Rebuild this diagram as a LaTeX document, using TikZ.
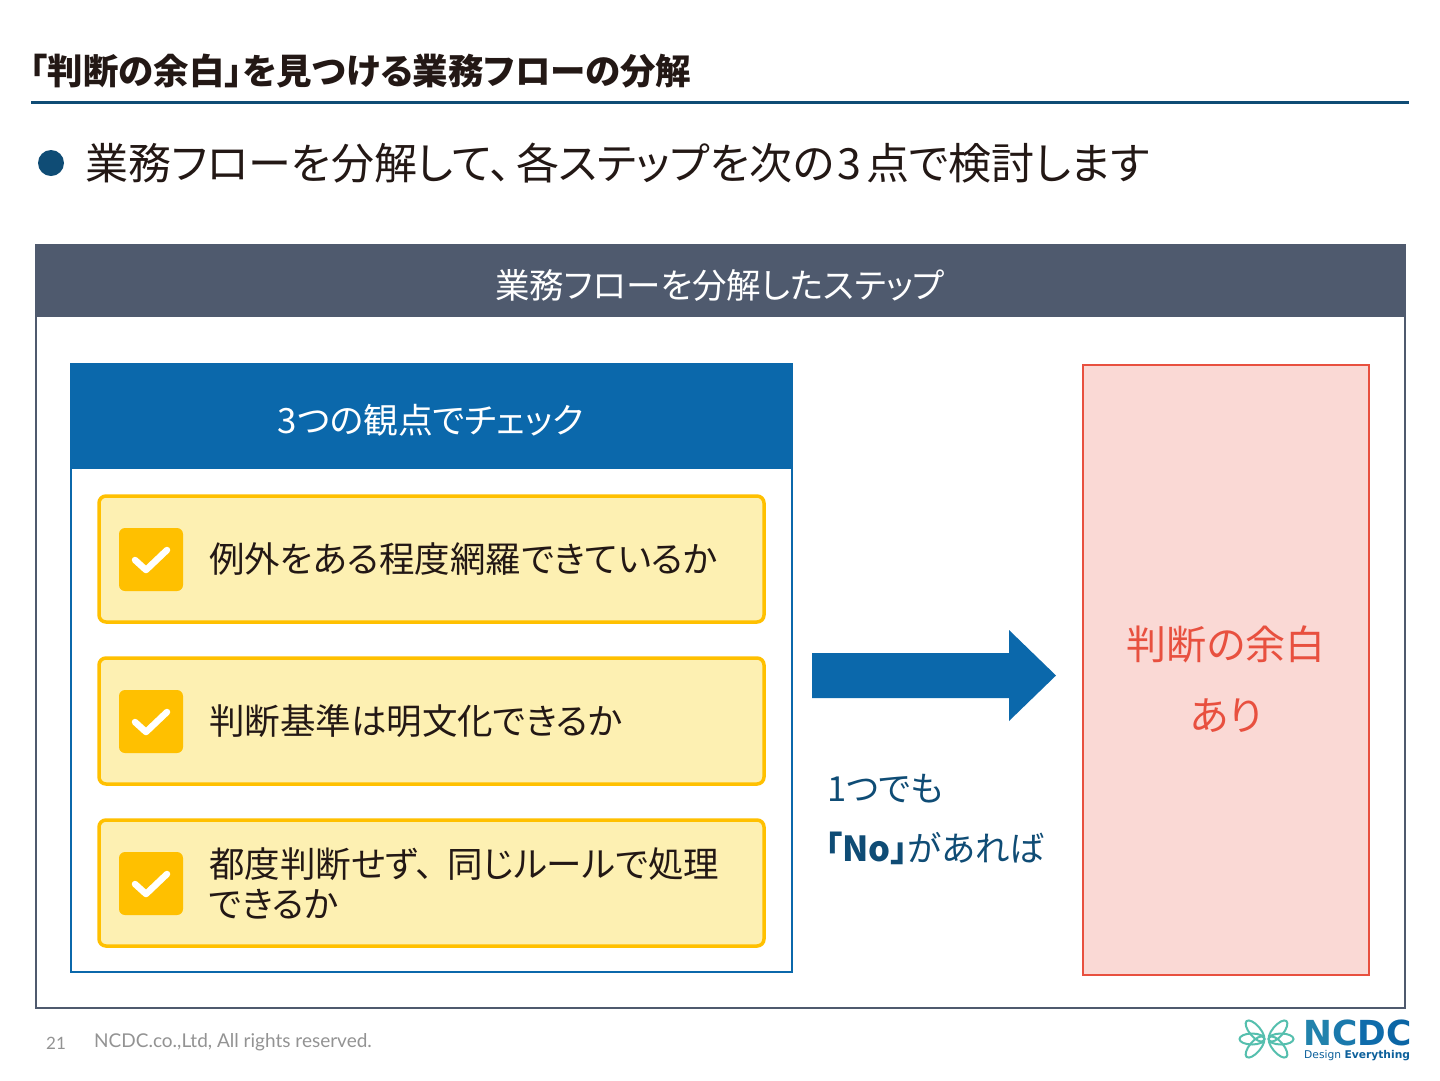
\documentclass[tikz,border=0pt]{standalone}
\usepackage{fontspec}
\setmainfont{Noto Sans CJK JP}[RawFeature=+palt]
\newfontfamily\latinfont{Lato}
\newfontfamily\logofont{DejaVu Sans}
\definecolor{inktext}{HTML}{231815}
\definecolor{navyrule}{HTML}{0F4C75}
\definecolor{headgray}{HTML}{4F5A6E}
\definecolor{blueband}{HTML}{0B68AB}
\definecolor{checkfill}{HTML}{FDF0B2}
\definecolor{checkline}{HTML}{FFC000}
\definecolor{gapline}{HTML}{E8503F}
\definecolor{gapfill}{HTML}{FAD9D5}
\definecolor{logoteal}{HTML}{55BFAE}
\tikzset{
    body/.style={inner sep=0pt,anchor=west,text=inktext},
    rowbox/.style={draw=checkline,fill=checkfill,line width=3.5pt,rounded corners=7pt},
    tick/.style={white,line width=6.5pt,line cap=round,line join=round},
    rowtext/.style={inner sep=0pt,anchor=west,align=left,text=inktext,font=\fontsize{35.5}{40}\selectfont},
    condtext/.style={inner sep=0pt,anchor=west,text=navyrule,font=\fontsize{34.5}{40}\selectfont},
    gaptext/.style={inner sep=0pt,text=gapline,font=\fontsize{40}{44}\selectfont},
    lobe/.style={draw=logoteal,line width=2pt},
}
\begin{document}
\begin{tikzpicture}[x=1pt,y=-1pt]
    \useasboundingbox (0,0) rectangle (1440,1080);
    \fill[white] (0,0) rectangle (1440,1080);
    % heading
    \node[body,font=\bfseries\fontsize{35.5}{40}\selectfont] (title) at (30,71) {「判断の余白」を見つける業務フローの分解};
    \draw[navyrule,line width=3pt] (31,102)--(1409,102);
    \fill[navyrule] (51,163) circle (13);
    \node[body,font=\fontsize{43}{50}\selectfont] (lead) at (85,163) {業務フローを分解して、\kern5pt 各ステップを次の\kern3pt 3\kern5pt 点で検討します};
    % outer frame
    \draw[headgray,line width=2.5pt,fill=white] (36,245) rectangle (1405,1008);
    \fill[headgray] (36,244) rectangle (1405,317);
    \node[text=white,inner sep=0pt,font=\fontsize{34.5}{40}\selectfont] (flowhead) at (720,285) {業務フローを分解したステップ};
    % left panel
    \draw[blueband,line width=2pt] (71,364) rectangle (792,972);
    \fill[blueband] (70,363) rectangle (793,469);
    \node[text=white,inner sep=0pt,font=\fontsize{34.8}{40}\selectfont] (panelhead) at (431,420) {3つの観点でチェック};
    \foreach \y/\name/\txt in {
        559/rowa/例外をある程度網羅できているか,
        721/rowb/判断基準は明文化できるか,
        883/rowc/{都度判断せず、\kern14pt 同じルールで処理\\できるか}}{
        \draw[rowbox] (99,\y-63) rectangle (764,\y+63);
        \fill[checkline,rounded corners=6pt] (119,\y-31) rectangle (183,\y+32);
        \draw[tick] (135,\y+1)--(146,\y+11)--(167,\y-9);
        \node[rowtext] (\name) at (209,\y) {\txt};
    }
    % arrow and condition
    \fill[blueband] (812,653)--(1009,653)--(1009,630)--(1056,675.5)--(1009,721)--(1009,698)--(812,698)--cycle;
    \node[condtext] (condone) at (827,789) {1つでも};
    \node[condtext] (condtwo) at (825,848) {\textbf{「No」}があれば};
    % right panel
    \draw[gapline,line width=2.5pt,fill=gapfill] (1083,365) rectangle (1369,975);
    \node[gaptext] (gapone) at (1226,644) {判断の余白};
    \node[gaptext] (gaptwo) at (1226,716) {あり};
    % footer
    \node[inner sep=0pt,anchor=west,text=gray!85,font=\latinfont\fontsize{17}{20}\selectfont] (pageno) at (46,1043) {21};
    \node[inner sep=0pt,anchor=west,text=gray!85,font=\latinfont\fontsize{19}{22}\selectfont] (rights) at (94,1042) {NCDC.co.,Ltd, All rights reserved.};
    % logo
    \foreach \cx/\sx in {1255/1,1278/-1}{
        \draw[lobe] (\cx-3*\sx,1039) ellipse [x radius=12.5,y radius=5.5];
        \draw[lobe,rotate around={-50*\sx:(\cx,1031)}] (\cx,1031) ellipse [x radius=13,y radius=5.5];
        \draw[lobe,rotate around={50*\sx:(\cx,1047)}] (\cx,1047) ellipse [x radius=13,y radius=5.5];
    }
    \node[inner sep=0pt,anchor=west,font=\logofont\bfseries\fontsize{34.5}{34}\selectfont] (logoname) at (1303,1033) {\textcolor{blueband!70!logoteal}{N}\textcolor{blueband!80!logoteal}{C}\textcolor{blueband!95!logoteal}{D}\textcolor{blueband!90!navyrule}{C}};
    \node[inner sep=0pt,anchor=west,text=blueband!70!navyrule,font=\logofont\fontsize{10.7}{12}\selectfont] (logotag) at (1304,1056) {Design \textbf{Everything}};
\end{tikzpicture}
\end{document}
